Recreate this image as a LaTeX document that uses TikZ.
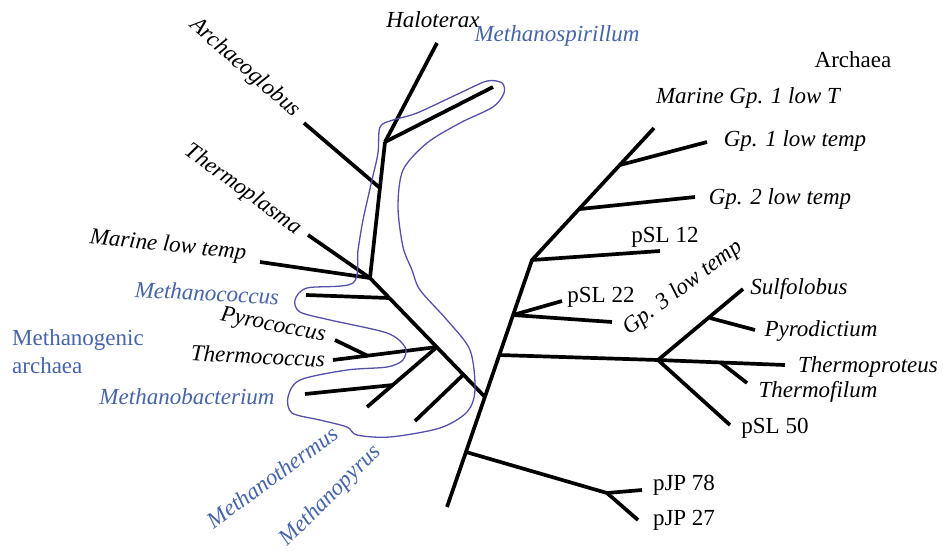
\documentclass[tikz,border=0pt]{standalone}
\usepackage{fontspec}
\setmainfont{Liberation Serif}
\definecolor{methblue}{RGB}{70,100,170}
\definecolor{ringblue}{RGB}{85,80,170}

\begin{document}
\begin{tikzpicture}[x=1pt,y=-1pt,
    branch/.style={line width=3.7pt},
    taxon/.style={font=\fontsize{23}{28}\selectfont\itshape,inner sep=0pt},
    clone/.style={font=\fontsize{23}{28}\selectfont,inner sep=0pt},
    meth/.style={taxon,text=methblue}]
    \useasboundingbox (0,0) rectangle (943,550);

    % trunk and the right hand groups
    \coordinate (bot) at (447,507);
    \coordinate (pjp) at (466,452);
    \coordinate (lj) at (485,397);
    \coordinate (cren) at (499,355);
    \coordinate (s22) at (513,315);
    \coordinate (s12) at (532,260);
    \coordinate (g2) at (580,209);
    \coordinate (g1) at (620,165);
    \coordinate (mg1t) at (654,128);
    \coordinate (g1t) at (707,142);
    \coordinate (g2t) at (695,197);
    \coordinate (s12t) at (660,251);
    \coordinate (s22t) at (562,301);
    \coordinate (g3t) at (612,322);
    \coordinate (cr) at (658,360);
    \coordinate (sult) at (743,289);
    \coordinate (pyd) at (710,318);
    \coordinate (pydt) at (755,330);
    \coordinate (thpt) at (785,365);
    \coordinate (thf) at (720,362);
    \coordinate (thft) at (747,383);
    \coordinate (s50t) at (730,425);
    \coordinate (jp) at (607,493);
    \coordinate (j78t) at (642,490);
    \coordinate (j27t) at (638,520);

    % left hand groups
    \coordinate (A) at (370,278);
    \coordinate (hn) at (385,142);
    \coordinate (halt) at (437,43);
    \coordinate (mspt) at (493,87);
    \coordinate (ag) at (380,188);
    \coordinate (agt) at (304,123);
    \coordinate (tplt) at (308,235);
    \coordinate (mltt) at (260,262);
    \coordinate (mcc) at (389,298);
    \coordinate (mcct) at (306,295);
    \coordinate (tc) at (437,347);
    \coordinate (tct) at (333,360);
    \coordinate (pyc) at (368,356);
    \coordinate (pyct) at (335,340);
    \coordinate (mbc) at (393,385);
    \coordinate (mbct) at (305,394);
    \coordinate (mtht) at (367,407);
    \coordinate (mpy) at (463,375);
    \coordinate (mpyt) at (415,421);

    \draw[branch] (bot) -- (s12) -- (mg1t);
    \foreach \a/\b in {pjp/jp, jp/j78t, jp/j27t, g1/g1t, g2/g2t, s12/s12t, s22/s22t, s22/g3t,
                       cren/cr, cr/sult, pyd/pydt, cr/thpt, thf/thft, cr/s50t,
                       lj/A, A/hn, hn/halt, hn/mspt, ag/agt, A/tplt, A/mltt, mcc/mcct,
                       tc/tct, pyc/pyct, tc/mtht, mbc/mbct, mpy/mpyt} {
        \draw[branch] (\a) -- (\b);
    }

    % outline of the methanogens
    \draw[ringblue,line width=1.3pt] plot[smooth cycle,tension=0.5] coordinates {
        (487,81) (502,83) (504,93) (493,107) (460,123) (427,143) (403,170) (398,207)
        (403,247) (412,270) (420,290) (447,320) (470,350) (475,390) (467,412) (440,428)
        (390,437) (357,435) (347,427) (320,420) (292,413) (288,397) (300,380) (347,370)
        (387,367) (403,360) (405,347) (387,333) (330,320) (300,312) (295,300) (307,288)
        (353,283) (358,250) (363,220) (372,180) (378,153) (380,127) (393,120) (417,113)
        (460,93)};

    % labels
    \node[taxon] (haloterax) at (433,20) {Haloterax};
    \node[meth] (methanospirillum) at (557,36) {Methanospirillum};
    \node[taxon,rotate=-41] (archaeoglobus) at (245,68) {Archaeoglobus};
    \node[taxon,rotate=-36] (thermoplasma) at (243,190) {Thermoplasma};
    \node[taxon,rotate=-6] (marinelow) at (168,246) {Marine low temp};
    \node[meth,rotate=-3] (methanococcus) at (207,293) {Methanococcus};
    \node[taxon,rotate=-11] (pyrococcus) at (273,326) {Pyrococcus};
    \node[taxon,rotate=-3] (thermococcus) at (258,356) {Thermococcus};
    \node[clone,text=methblue,anchor=west,align=left] (methanogenic) at (12,352) {Methanogenic\\archaea};
    \node[meth] (methanobacterium) at (187,397) {Methanobacterium};
    \node[meth,rotate=36] (methanothermus) at (272,477) {Methanothermus};
    \node[meth,rotate=45] (methanopyrus) at (331,496) {Methanopyrus};
    \node[clone] (archaea) at (853,60) {Archaea};
    \node[taxon] (marinegp1) at (748,98) {Marine Gp. 1 low T};
    \node[taxon] (gp1) at (795,141) {Gp. 1 low temp};
    \node[taxon] (gp2) at (780,199) {Gp. 2 low temp};
    \node[clone] (psl12) at (665,237) {pSL 12};
    \node[clone] (psl22) at (601,297) {pSL 22};
    \node[taxon,rotate=37] (gp3) at (683,288) {Gp. 3 low temp};
    \node[taxon] (sulfolobus) at (799,289) {Sulfolobus};
    \node[taxon] (pyrodictium) at (821,331) {Pyrodictium};
    \node[taxon] (thermoproteus) at (868,367) {Thermoproteus};
    \node[taxon] (thermofilum) at (818,392) {Thermofilum};
    \node[clone] (psl50) at (775,428) {pSL 50};
    \node[clone] (pjp78) at (684,485) {pJP 78};
    \node[clone] (pjp27) at (684,520) {pJP 27};
\end{tikzpicture}
\end{document}
